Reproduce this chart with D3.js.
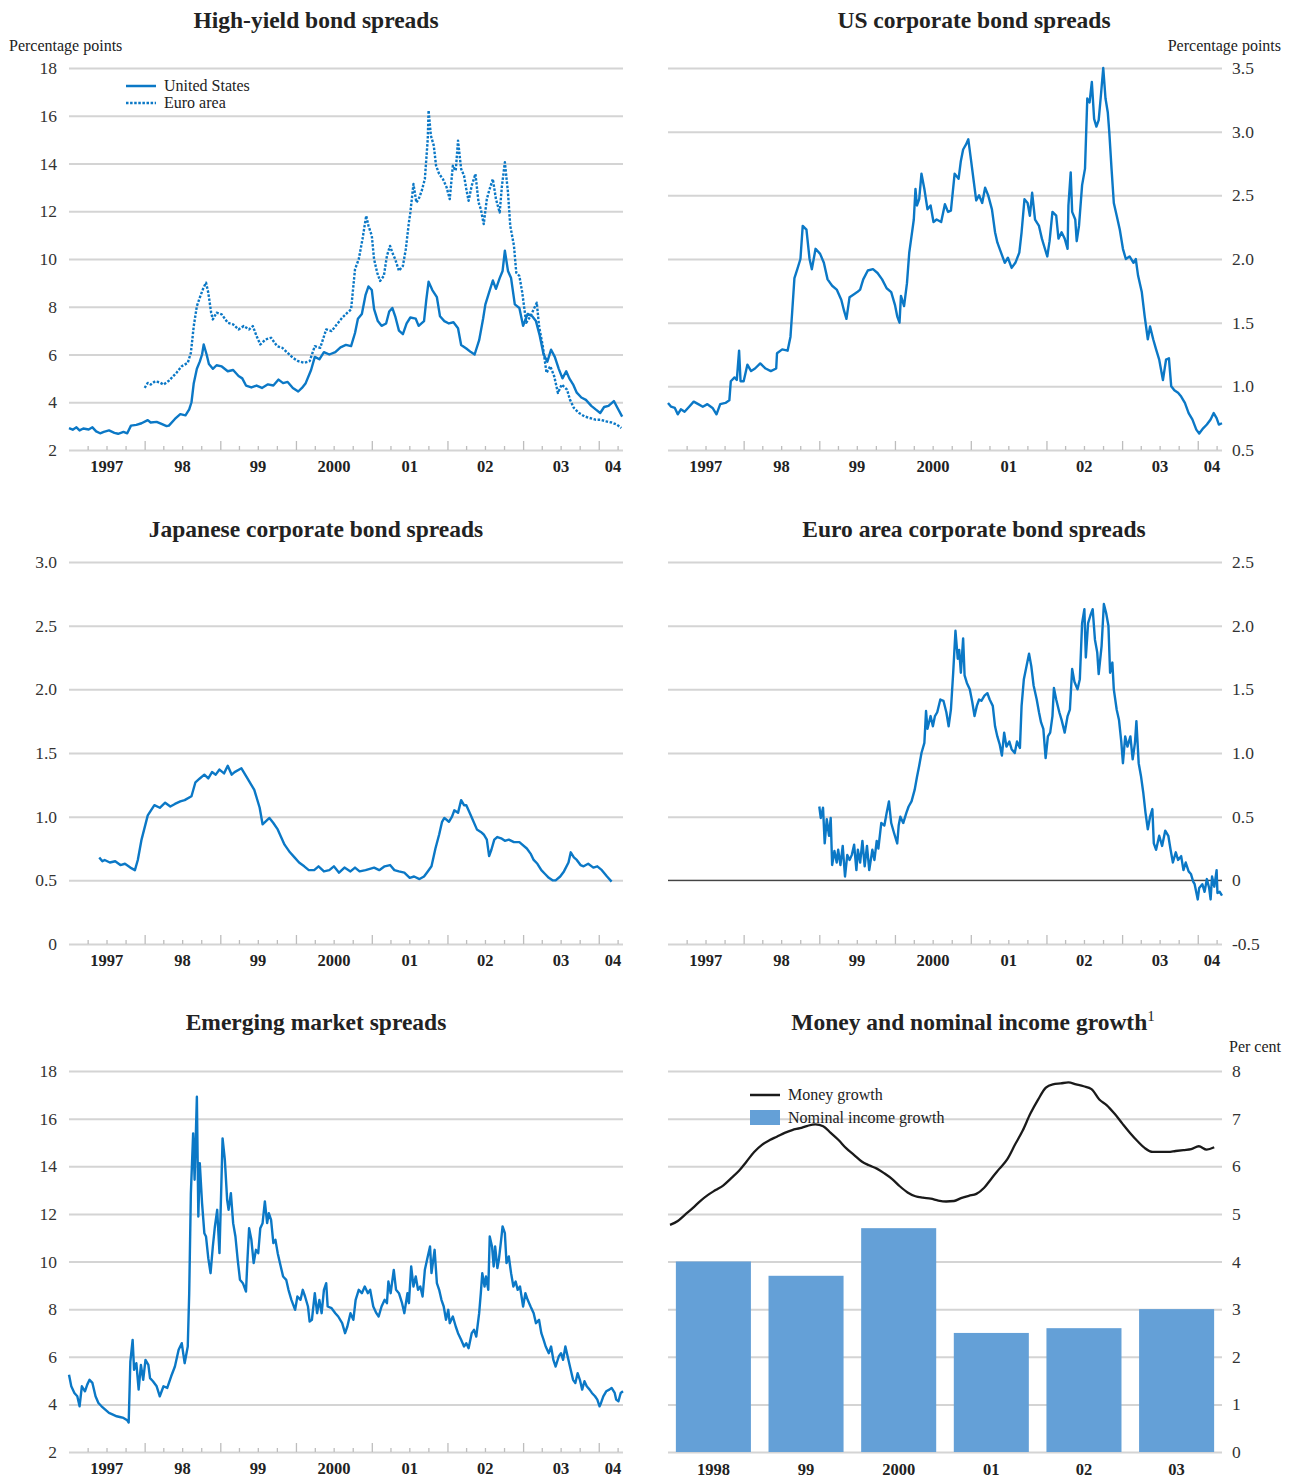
<!DOCTYPE html>
<html>
<head>
<meta charset="utf-8">
<script src="https://cdn.jsdelivr.net/npm/d3@7"></script>
<style>
	body { margin: 0; background: #fff; }
	svg text { font-family: "Liberation Serif", "Times New Roman", serif; }
</style>
</head>
<body>
<div id="chart"></div>
<script>

// DATA
// [decimal year, value] pairs

const usHighYield = [[1997.00,2.92],[1997.05,2.85],[1997.10,2.95],[1997.14,2.82],[1997.19,2.90],[1997.26,2.86],[1997.31,2.95],[1997.36,2.78],[1997.41,2.70],[1997.46,2.76],[1997.53,2.82],[1997.60,2.72],[1997.65,2.68],[1997.72,2.76],[1997.77,2.70],[1997.82,3.02],[1997.89,3.05],[1997.96,3.12],[1998.04,3.25],[1998.08,3.15],[1998.16,3.18],[1998.23,3.08],[1998.29,3.00],[1998.32,3.02],[1998.40,3.30],[1998.47,3.50],[1998.54,3.45],[1998.59,3.70],[1998.62,4.00],[1998.65,4.80],[1998.69,5.40],[1998.73,5.70],[1998.76,6.00],[1998.78,6.42],[1998.82,6.00],[1998.85,5.60],[1998.90,5.40],[1998.95,5.55],[1999.02,5.50],[1999.10,5.30],[1999.17,5.35],[1999.24,5.10],[1999.29,5.00],[1999.34,4.70],[1999.41,4.62],[1999.48,4.70],[1999.55,4.60],[1999.63,4.75],[1999.70,4.70],[1999.77,4.95],[1999.83,4.80],[1999.89,4.85],[1999.96,4.60],[2000.03,4.45],[2000.08,4.60],[2000.13,4.80],[2000.20,5.35],[2000.25,5.90],[2000.31,5.80],[2000.37,6.10],[2000.44,6.00],[2000.52,6.10],[2000.59,6.30],[2000.66,6.40],[2000.73,6.35],[2000.78,6.90],[2000.82,7.50],[2000.87,7.70],[2000.92,8.50],[2000.96,8.85],[2001.00,8.70],[2001.03,7.90],[2001.08,7.40],[2001.13,7.20],[2001.19,7.30],[2001.23,7.80],[2001.27,7.95],[2001.31,7.60],[2001.36,7.00],[2001.41,6.85],[2001.46,7.30],[2001.51,7.55],[2001.58,7.50],[2001.62,7.20],[2001.69,7.40],[2001.72,8.30],[2001.75,9.05],[2001.80,8.70],[2001.86,8.40],[2001.90,7.60],[2001.96,7.40],[2002.02,7.30],[2002.08,7.35],[2002.14,7.10],[2002.18,6.40],[2002.25,6.25],[2002.31,6.10],[2002.36,6.00],[2002.42,6.60],[2002.47,7.50],[2002.50,8.10],[2002.55,8.60],[2002.60,9.10],[2002.64,8.75],[2002.69,9.20],[2002.73,9.50],[2002.76,10.35],[2002.80,9.50],[2002.84,9.20],[2002.89,8.10],[2002.95,7.95],[2003.00,7.20],[2003.06,7.70],[2003.12,7.60],[2003.17,7.40],[2003.22,6.80],[2003.27,6.00],[2003.32,5.70],[2003.37,6.20],[2003.42,5.90],[2003.47,5.40],[2003.52,5.00],[2003.57,5.30],[2003.61,5.00],[2003.66,4.75],[2003.71,4.40],[2003.77,4.20],[2003.83,4.10],[2003.90,3.85],[2003.96,3.70],[2004.02,3.55],[2004.07,3.80],[2004.13,3.85],[2004.20,4.05],[2004.24,3.80],[2004.31,3.40]];

const euroHighYield = [[1998.00,4.60],[1998.04,4.81],[1998.08,4.74],[1998.14,4.88],[1998.20,4.83],[1998.25,4.74],[1998.32,4.90],[1998.42,5.23],[1998.49,5.51],[1998.57,5.65],[1998.61,6.07],[1998.65,7.19],[1998.69,8.03],[1998.73,8.38],[1998.77,8.73],[1998.81,9.01],[1998.84,8.59],[1998.88,7.75],[1998.90,7.47],[1998.95,7.75],[1999.02,7.68],[1999.10,7.33],[1999.17,7.26],[1999.24,7.05],[1999.31,7.19],[1999.38,7.05],[1999.43,7.19],[1999.48,6.77],[1999.53,6.42],[1999.60,6.63],[1999.67,6.70],[1999.75,6.35],[1999.82,6.28],[1999.89,6.07],[1999.96,5.86],[2000.03,5.72],[2000.11,5.65],[2000.18,5.72],[2000.25,6.35],[2000.32,6.28],[2000.40,7.05],[2000.47,6.98],[2000.54,7.26],[2000.61,7.54],[2000.68,7.75],[2000.73,7.89],[2000.78,9.57],[2000.83,9.99],[2000.88,10.83],[2000.93,11.81],[2000.96,11.39],[2001.00,10.97],[2001.03,9.99],[2001.07,9.43],[2001.11,9.08],[2001.16,9.29],[2001.20,10.13],[2001.24,10.55],[2001.27,10.27],[2001.31,9.99],[2001.36,9.50],[2001.41,9.71],[2001.45,10.41],[2001.49,11.53],[2001.51,11.95],[2001.55,13.14],[2001.59,12.37],[2001.62,12.51],[2001.66,12.86],[2001.70,13.35],[2001.74,15.03],[2001.75,16.22],[2001.78,15.17],[2001.82,14.75],[2001.85,13.91],[2001.89,13.56],[2001.94,13.35],[2001.99,13.00],[2002.03,12.51],[2002.07,13.91],[2002.11,13.70],[2002.14,14.96],[2002.18,13.77],[2002.22,13.49],[2002.25,12.93],[2002.28,12.44],[2002.32,13.07],[2002.37,13.56],[2002.41,12.37],[2002.44,12.09],[2002.48,11.46],[2002.52,12.51],[2002.55,12.86],[2002.60,13.35],[2002.64,12.51],[2002.69,11.95],[2002.72,13.07],[2002.76,14.05],[2002.80,12.79],[2002.83,11.39],[2002.88,10.55],[2002.91,9.43],[2002.95,9.29],[2002.99,8.59],[2003.04,7.33],[2003.10,7.61],[2003.14,7.89],[2003.18,8.17],[2003.21,7.19],[2003.26,6.35],[2003.31,5.23],[2003.36,5.51],[2003.41,5.09],[2003.46,4.39],[2003.51,4.74],[2003.58,4.53],[2003.62,4.11],[2003.67,3.76],[2003.74,3.55],[2003.81,3.41],[2003.88,3.34],[2003.96,3.27],[2004.02,3.27],[2004.10,3.20],[2004.17,3.15],[2004.24,3.06],[2004.30,2.92]];

const usCorporate = [[1997.00,0.87],[1997.04,0.84],[1997.09,0.83],[1997.13,0.78],[1997.17,0.82],[1997.22,0.80],[1997.28,0.84],[1997.34,0.88],[1997.40,0.86],[1997.46,0.84],[1997.52,0.86],[1997.59,0.83],[1997.64,0.78],[1997.69,0.86],[1997.76,0.87],[1997.81,0.89],[1997.83,1.04],[1997.88,1.07],[1997.91,1.05],[1997.94,1.28],[1997.96,1.04],[1998.00,1.04],[1998.05,1.17],[1998.10,1.12],[1998.15,1.14],[1998.22,1.18],[1998.29,1.14],[1998.36,1.12],[1998.43,1.14],[1998.44,1.26],[1998.51,1.29],[1998.58,1.28],[1998.62,1.39],[1998.64,1.58],[1998.67,1.85],[1998.71,1.92],[1998.75,2.00],[1998.78,2.26],[1998.83,2.23],[1998.87,2.00],[1998.90,1.92],[1998.95,2.08],[1999.01,2.04],[1999.06,1.97],[1999.11,1.84],[1999.17,1.79],[1999.23,1.76],[1999.29,1.68],[1999.33,1.59],[1999.36,1.53],[1999.40,1.70],[1999.45,1.72],[1999.50,1.74],[1999.54,1.76],[1999.58,1.84],[1999.64,1.91],[1999.71,1.92],[1999.77,1.89],[1999.83,1.84],[1999.89,1.77],[1999.95,1.74],[2000.00,1.64],[2000.03,1.55],[2000.06,1.50],[2000.08,1.71],[2000.12,1.63],[2000.16,1.81],[2000.19,2.05],[2000.22,2.18],[2000.25,2.31],[2000.27,2.55],[2000.29,2.42],[2000.32,2.47],[2000.35,2.67],[2000.39,2.55],[2000.43,2.39],[2000.47,2.42],[2000.51,2.29],[2000.55,2.31],[2000.61,2.29],[2000.66,2.43],[2000.70,2.37],[2000.74,2.38],[2000.79,2.67],[2000.84,2.63],[2000.87,2.77],[2000.90,2.86],[2000.94,2.90],[2000.97,2.94],[2001.00,2.79],[2001.04,2.60],[2001.07,2.46],[2001.11,2.50],[2001.15,2.44],[2001.19,2.56],[2001.23,2.50],[2001.28,2.39],[2001.32,2.21],[2001.35,2.13],[2001.40,2.05],[2001.45,1.97],[2001.49,2.01],[2001.54,1.93],[2001.59,1.97],[2001.64,2.05],[2001.67,2.21],[2001.71,2.47],[2001.75,2.44],[2001.78,2.34],[2001.81,2.52],[2001.85,2.31],[2001.90,2.26],[2001.94,2.16],[2001.97,2.10],[2002.01,2.02],[2002.04,2.14],[2002.08,2.37],[2002.13,2.34],[2002.16,2.16],[2002.20,2.21],[2002.24,2.16],[2002.28,2.08],[2002.29,2.42],[2002.32,2.68],[2002.34,2.37],[2002.38,2.31],[2002.40,2.14],[2002.43,2.26],[2002.47,2.58],[2002.51,2.71],[2002.54,3.26],[2002.57,3.23],[2002.60,3.39],[2002.63,3.10],[2002.66,3.04],[2002.69,3.09],[2002.72,3.29],[2002.75,3.50],[2002.78,3.26],[2002.81,3.15],[2002.83,3.00],[2002.86,2.71],[2002.89,2.44],[2002.93,2.34],[2002.97,2.23],[2003.01,2.08],[2003.05,2.00],[2003.10,2.02],[2003.15,1.97],[2003.18,2.00],[2003.21,1.87],[2003.26,1.74],[2003.30,1.55],[2003.34,1.37],[2003.37,1.47],[2003.41,1.37],[2003.45,1.29],[2003.49,1.21],[2003.54,1.05],[2003.58,1.21],[2003.62,1.22],[2003.65,1.00],[2003.69,0.97],[2003.74,0.95],[2003.78,0.92],[2003.83,0.87],[2003.88,0.79],[2003.93,0.74],[2003.98,0.66],[2004.02,0.63],[2004.07,0.67],[2004.12,0.70],[2004.17,0.74],[2004.21,0.79],[2004.25,0.75],[2004.28,0.70],[2004.32,0.71]];

const japanCorporate = [[1997.40,0.68],[1997.44,0.65],[1997.47,0.66],[1997.54,0.64],[1997.61,0.65],[1997.68,0.62],[1997.74,0.63],[1997.81,0.60],[1997.87,0.58],[1997.91,0.66],[1997.96,0.82],[1998.04,1.01],[1998.13,1.09],[1998.20,1.07],[1998.27,1.11],[1998.34,1.08],[1998.40,1.10],[1998.47,1.12],[1998.53,1.13],[1998.62,1.16],[1998.67,1.27],[1998.73,1.30],[1998.79,1.33],[1998.84,1.30],[1998.89,1.35],[1998.94,1.33],[1998.99,1.37],[1999.05,1.34],[1999.10,1.40],[1999.15,1.33],[1999.19,1.35],[1999.28,1.38],[1999.36,1.30],[1999.45,1.21],[1999.52,1.07],[1999.56,0.94],[1999.65,0.99],[1999.70,0.95],[1999.76,0.90],[1999.85,0.78],[1999.92,0.72],[1999.98,0.68],[2000.04,0.64],[2000.11,0.61],[2000.17,0.58],[2000.24,0.58],[2000.30,0.61],[2000.37,0.57],[2000.44,0.58],[2000.50,0.61],[2000.57,0.56],[2000.64,0.60],[2000.72,0.57],[2000.78,0.60],[2000.84,0.57],[2000.92,0.58],[2001.03,0.60],[2001.10,0.58],[2001.17,0.61],[2001.24,0.62],[2001.30,0.58],[2001.36,0.57],[2001.43,0.56],[2001.50,0.52],[2001.56,0.53],[2001.63,0.51],[2001.69,0.53],[2001.74,0.57],[2001.79,0.61],[2001.84,0.75],[2001.89,0.86],[2001.93,0.96],[2001.96,0.99],[2002.02,0.96],[2002.06,1.00],[2002.09,1.05],[2002.14,1.03],[2002.18,1.13],[2002.22,1.09],[2002.25,1.09],[2002.31,1.01],[2002.39,0.90],[2002.44,0.88],[2002.48,0.86],[2002.52,0.82],[2002.55,0.69],[2002.58,0.74],[2002.62,0.82],[2002.66,0.84],[2002.71,0.83],[2002.76,0.81],[2002.81,0.82],[2002.88,0.80],[2002.95,0.80],[2003.05,0.75],[2003.10,0.71],[2003.14,0.66],[2003.19,0.63],[2003.24,0.58],[2003.29,0.55],[2003.34,0.52],[2003.39,0.50],[2003.43,0.50],[2003.49,0.53],[2003.54,0.57],[2003.60,0.64],[2003.63,0.72],[2003.67,0.68],[2003.71,0.66],[2003.76,0.62],[2003.80,0.61],[2003.86,0.63],[2003.93,0.60],[2003.98,0.61],[2004.04,0.58],[2004.11,0.53],[2004.17,0.49]];

const euroCorporate = [[1999.00,0.58],[1999.02,0.49],[1999.05,0.57],[1999.07,0.29],[1999.10,0.48],[1999.13,0.35],[1999.15,0.49],[1999.17,0.12],[1999.20,0.23],[1999.23,0.14],[1999.25,0.24],[1999.28,0.12],[1999.31,0.27],[1999.34,0.03],[1999.37,0.20],[1999.40,0.16],[1999.43,0.20],[1999.46,0.28],[1999.49,0.08],[1999.51,0.24],[1999.54,0.14],[1999.57,0.31],[1999.60,0.11],[1999.63,0.27],[1999.66,0.08],[1999.70,0.24],[1999.73,0.16],[1999.76,0.31],[1999.78,0.25],[1999.82,0.45],[1999.86,0.43],[1999.89,0.53],[1999.92,0.62],[1999.95,0.45],[1999.99,0.37],[2000.03,0.29],[2000.05,0.43],[2000.07,0.50],[2000.11,0.45],[2000.15,0.53],[2000.18,0.58],[2000.22,0.62],[2000.26,0.71],[2000.29,0.81],[2000.32,0.90],[2000.35,1.00],[2000.39,1.08],[2000.41,1.33],[2000.43,1.19],[2000.47,1.29],[2000.50,1.21],[2000.53,1.29],[2000.56,1.32],[2000.60,1.42],[2000.64,1.41],[2000.68,1.32],[2000.71,1.21],[2000.74,1.34],[2000.77,1.63],[2000.80,1.96],[2000.83,1.74],[2000.85,1.81],[2000.87,1.63],[2000.90,1.90],[2000.92,1.61],[2000.95,1.55],[2000.99,1.50],[2001.02,1.40],[2001.05,1.29],[2001.08,1.37],[2001.11,1.42],[2001.14,1.41],[2001.18,1.45],[2001.22,1.47],[2001.25,1.42],[2001.29,1.37],[2001.32,1.21],[2001.35,1.13],[2001.38,1.07],[2001.41,0.98],[2001.44,1.16],[2001.47,1.05],[2001.51,1.09],[2001.54,1.03],[2001.58,1.00],[2001.61,1.09],[2001.65,1.04],[2001.67,1.37],[2001.70,1.58],[2001.73,1.66],[2001.77,1.78],[2001.80,1.68],[2001.83,1.53],[2001.87,1.42],[2001.90,1.32],[2001.93,1.24],[2001.96,1.19],[2001.99,0.96],[2002.02,1.13],[2002.05,1.16],[2002.08,1.29],[2002.10,1.51],[2002.13,1.42],[2002.17,1.32],[2002.20,1.26],[2002.24,1.16],[2002.28,1.29],[2002.31,1.34],[2002.34,1.66],[2002.37,1.56],[2002.41,1.50],[2002.44,1.58],[2002.47,2.02],[2002.50,2.13],[2002.52,1.75],[2002.55,2.02],[2002.58,2.08],[2002.61,2.13],[2002.64,1.89],[2002.67,1.79],[2002.69,1.62],[2002.73,1.84],[2002.76,2.17],[2002.79,2.10],[2002.82,2.00],[2002.84,1.63],[2002.87,1.71],[2002.89,1.50],[2002.93,1.34],[2002.96,1.26],[2002.99,1.09],[2003.01,0.92],[2003.04,1.13],[2003.07,1.05],[2003.11,1.13],[2003.14,0.95],[2003.17,1.08],[2003.19,1.25],[2003.22,0.92],[2003.25,0.82],[2003.28,0.69],[2003.31,0.53],[2003.34,0.40],[2003.37,0.50],[2003.40,0.56],[2003.42,0.29],[2003.45,0.24],[2003.49,0.35],[2003.53,0.27],[2003.57,0.39],[2003.61,0.35],[2003.64,0.24],[2003.67,0.14],[2003.71,0.22],[2003.74,0.16],[2003.78,0.19],[2003.81,0.08],[2003.84,0.14],[2003.88,0.07],[2003.91,0.05],[2003.94,-0.01],[2003.96,-0.03],[2004.00,-0.15],[2004.02,-0.06],[2004.06,-0.03],[2004.09,-0.09],[2004.12,0.01],[2004.15,-0.06],[2004.17,-0.15],[2004.19,0.03],[2004.22,-0.05],[2004.25,0.08],[2004.26,-0.10],[2004.29,-0.09],[2004.32,-0.12]];

const emergingMarkets = [[1997.00,5.24],[1997.03,4.76],[1997.07,4.48],[1997.11,4.34],[1997.14,3.92],[1997.17,4.76],[1997.21,4.55],[1997.24,4.83],[1997.27,5.03],[1997.31,4.90],[1997.35,4.34],[1997.39,4.06],[1997.43,3.92],[1997.48,3.78],[1997.53,3.64],[1997.58,3.57],[1997.63,3.50],[1997.67,3.47],[1997.72,3.43],[1997.77,3.33],[1997.79,3.24],[1997.81,5.80],[1997.84,6.71],[1997.86,5.45],[1997.89,5.73],[1997.92,4.62],[1997.95,5.66],[1997.98,5.03],[1998.01,5.87],[1998.05,5.66],[1998.07,5.10],[1998.11,4.97],[1998.16,4.76],[1998.20,4.34],[1998.25,4.76],[1998.30,4.69],[1998.35,5.18],[1998.40,5.59],[1998.45,6.29],[1998.49,6.57],[1998.53,5.73],[1998.57,6.43],[1998.59,8.67],[1998.61,12.87],[1998.64,15.38],[1998.66,13.43],[1998.69,16.92],[1998.71,11.89],[1998.73,14.13],[1998.76,12.45],[1998.79,11.19],[1998.81,11.05],[1998.84,10.14],[1998.87,9.51],[1998.90,10.63],[1998.93,11.47],[1998.96,12.17],[1998.99,10.35],[1999.01,12.87],[1999.03,15.17],[1999.06,14.27],[1999.09,12.59],[1999.11,12.17],[1999.14,12.87],[1999.17,11.61],[1999.20,11.05],[1999.23,10.07],[1999.26,9.23],[1999.30,9.09],[1999.34,8.74],[1999.36,10.07],[1999.38,11.40],[1999.41,10.91],[1999.44,9.93],[1999.47,10.49],[1999.50,10.35],[1999.53,11.40],[1999.56,11.61],[1999.59,12.52],[1999.62,11.61],[1999.64,12.03],[1999.67,11.75],[1999.70,10.77],[1999.73,10.91],[1999.76,10.35],[1999.79,9.93],[1999.83,9.37],[1999.87,9.23],[1999.90,8.81],[1999.94,8.39],[1999.99,7.97],[2000.02,8.53],[2000.06,8.39],[2000.09,8.81],[2000.12,8.53],[2000.16,8.11],[2000.18,7.48],[2000.21,7.55],[2000.25,8.67],[2000.28,7.83],[2000.31,8.39],[2000.34,7.83],[2000.37,8.81],[2000.40,9.09],[2000.42,8.11],[2000.47,8.04],[2000.52,7.83],[2000.56,7.69],[2000.61,7.41],[2000.65,6.99],[2000.68,7.27],[2000.72,7.83],[2000.76,7.55],[2000.79,8.39],[2000.83,8.81],[2000.87,8.67],[2000.91,8.95],[2000.95,8.67],[2000.98,8.81],[2001.02,8.11],[2001.06,7.83],[2001.09,7.69],[2001.13,8.11],[2001.17,8.39],[2001.20,8.25],[2001.22,9.16],[2001.25,8.67],[2001.29,9.65],[2001.32,8.81],[2001.36,8.67],[2001.40,8.25],[2001.43,7.83],[2001.47,8.67],[2001.49,8.25],[2001.52,9.79],[2001.55,8.95],[2001.58,9.37],[2001.61,8.81],[2001.64,8.95],[2001.67,8.53],[2001.70,9.65],[2001.74,10.21],[2001.77,10.63],[2001.79,9.51],[2001.83,10.49],[2001.86,9.09],[2001.89,8.81],[2001.92,8.39],[2001.95,8.11],[2001.98,7.55],[2002.01,7.97],[2002.03,7.41],[2002.07,7.69],[2002.11,7.27],[2002.14,6.99],[2002.18,6.71],[2002.22,6.43],[2002.25,6.57],[2002.28,6.36],[2002.32,6.99],[2002.35,7.13],[2002.38,6.85],[2002.42,7.83],[2002.44,8.67],[2002.46,9.51],[2002.49,8.95],[2002.51,9.37],[2002.54,8.81],[2002.56,11.05],[2002.59,10.63],[2002.61,9.79],[2002.63,10.63],[2002.66,9.72],[2002.68,10.07],[2002.71,10.91],[2002.73,11.47],[2002.76,11.19],[2002.78,9.93],[2002.81,10.21],[2002.84,9.51],[2002.87,8.95],[2002.90,9.16],[2002.93,8.81],[2002.96,8.95],[2003.00,8.11],[2003.03,8.67],[2003.06,8.39],[2003.10,8.11],[2003.14,7.83],[2003.17,7.41],[2003.21,7.55],[2003.24,6.99],[2003.27,6.71],[2003.30,6.43],[2003.34,6.15],[2003.37,6.43],[2003.40,5.87],[2003.43,5.59],[2003.47,6.01],[2003.50,6.15],[2003.53,5.87],[2003.56,6.43],[2003.59,6.01],[2003.62,5.59],[2003.66,5.03],[2003.69,4.90],[2003.72,5.31],[2003.75,5.03],[2003.78,4.62],[2003.81,4.97],[2003.84,4.76],[2003.88,4.62],[2003.91,4.48],[2003.95,4.34],[2003.98,4.20],[2004.01,3.92],[2004.03,4.06],[2004.06,4.34],[2004.10,4.55],[2004.14,4.62],[2004.17,4.69],[2004.21,4.48],[2004.23,4.20],[2004.26,4.13],[2004.29,4.48],[2004.32,4.55]];

// money growth, monthly from January 1998
const moneyGrowth = [4.77,4.85,4.98,5.12,5.27,5.40,5.50,5.60,5.75,5.90,6.10,6.30, 6.45,6.55,6.62,6.70,6.76,6.80,6.85,6.88,6.84,6.70,6.55,6.38, 6.24,6.10,6.02,5.95,5.85,5.73,5.58,5.45,5.37,5.34,5.32,5.28, 5.26,5.27,5.33,5.38,5.42,5.55,5.75,5.95,6.15,6.45,6.75,7.10, 7.40,7.65,7.72,7.74,7.76,7.72,7.68,7.62,7.40,7.28,7.10,6.90, 6.70,6.52,6.38,6.30,6.30,6.30,6.32,6.34,6.36,6.42,6.35,6.40];

// nominal income growth, yearly
const incomeYears = ['1998', '99', '2000', '01', '02', '03'];
const incomeGrowth = [4.0, 3.7, 4.7, 2.5, 2.6, 3.0];

// tick labels
const yearLabels = ['1997', '98', '99', '2000', '01', '02', '03', '04'];
const hyTicks = [2, 4, 6, 8, 10, 12, 14, 16, 18];
const usCorpTicks = [0.5, 1.0, 1.5, 2.0, 2.5, 3.0, 3.5];
const japanTicks = [0, 0.5, 1.0, 1.5, 2.0, 2.5, 3.0];
const euroCorpTicks = [-0.5, 0, 0.5, 1.0, 1.5, 2.0, 2.5];
const emTicks = [2, 4, 6, 8, 10, 12, 14, 16, 18];
const moneyTicks = [0, 1, 2, 3, 4, 5, 6, 7, 8];




// SETUP
const W = 1295, H = 1479;
const BLUE = '#0b78c6';
const GRID = '#d4d4d4';
const svg = d3.select('#chart').append('svg')
	.attr('width', W)
	.attr('height', H);

const toDate = (t) => {
	const y = Math.floor(t);
	return new Date(y, 0, 1 + Math.round((t - y) * 365));
};
const xStart = new Date(1997, 0, 1);
const xEnd = new Date(2004, 3, 27);
// plain hyphen for negatives, "0" without decimals
const fmt1 = (d) => d === 0 ? '0' : d3.format('.1f')(d).replace('\u2212', '-');

const title = (text, cx, y) => svg.append('text')
	.attr('x', cx).attr('y', y)
	.attr('text-anchor', 'middle')
	.attr('font-size', 23.5).attr('font-weight', 'bold')
	.attr('fill', '#222')
	.text(text);

const unitLabel = (text, x, y, anchor) => svg.append('text')
	.attr('x', x).attr('y', y)
	.attr('text-anchor', anchor)
	.attr('font-size', 16).attr('fill', '#222')
	.text(text);

// y grid + labels with d3 axis
function yGrid(y, ticks, fmt, side, x0, x1) {
	const axis = side === 'left' ? d3.axisLeft(y) : d3.axisRight(y);
	axis.tickValues(ticks).tickFormat(fmt).tickSize(-(x1 - x0)).tickPadding(side === 'left' ? 12 : 10);
	const g = svg.append('g')
		.attr('transform', `translate(${side === 'left' ? x0 : x1}, 0)`)
		.call(axis);
	g.select('.domain').remove();
	g.selectAll('line').attr('stroke', GRID).attr('stroke-width', 2);
	g.selectAll('text')
		.attr('font-size', 17.5).attr('fill', '#333')
		.style('font-family', '"Liberation Serif", "Times New Roman", serif');
	return g;
}




// TIME PANEL
function timePanel(cfg) {
	const x = d3.scaleTime().domain([xStart, xEnd]).range(cfg.xRange);
	const y = d3.scaleLinear().domain(cfg.yDomain).range(cfg.yRange);
	const base = cfg.yRange[0];

	yGrid(y, cfg.ticks, cfg.fmt, cfg.side, cfg.xRange[0], cfg.xRange[1]);

	// quarter ticks on the bottom line, taller at year starts
	const xAxis = d3.axisBottom(x)
		.ticks(d3.timeMonth.every(3))
		.tickSize(-4)
		.tickFormat('');
	const gx = svg.append('g')
		.attr('transform', `translate(0, ${base})`)
		.call(xAxis);
	gx.select('.domain').remove();
	gx.selectAll('.tick line')
		.attr('stroke', '#bdbdbd').attr('stroke-width', 1.3)
		.attr('y2', d => d.getMonth() === 0 ? -9 : -4)
		.filter(d => +d === +xStart).remove();

	// year labels centred in each year
	svg.append('g').selectAll('text')
		.data(yearLabels)
		.enter().append('text')
		.attr('x', (d, i) => {
			const a = new Date(1997 + i, 0, 1);
			const b = d3.min([new Date(1998 + i, 0, 1), xEnd]);
			return (x(a) + x(b)) / 2 + (i === yearLabels.length - 1 ? 2 : 0);
		})
		.attr('y', base + 22)
		.attr('text-anchor', 'middle')
		.attr('font-size', 16.5).attr('font-weight', 'bold').attr('fill', '#222')
		.text(d => d);

	if (cfg.zeroLine) {
		svg.append('line')
			.attr('x1', cfg.xRange[0]).attr('x2', cfg.xRange[1])
			.attr('y1', y(0)).attr('y2', y(0))
			.attr('stroke', '#444').attr('stroke-width', 1.4);
	}

	const line = d3.line()
		.x(d => x(toDate(d[0])))
		.y(d => y(d[1]));

	cfg.series.forEach(s => {
		svg.append('path')
			.datum(s.data)
			.attr('fill', 'none')
			.attr('stroke', BLUE)
			.attr('stroke-width', 2.4)
			.attr('stroke-linejoin', 'round')
			.attr('stroke-dasharray', s.dash || null)
			.attr('d', line);
	});
	return { x, y };
}

const LEFT = [69, 623];
const RIGHT = [668, 1222];




// ROW 1
title('High-yield bond spreads', 316, 28);
unitLabel('Percentage points', 9, 51, 'start');
timePanel({
	xRange: LEFT, yDomain: [2, 18], yRange: [450, 68],
	ticks: hyTicks, fmt: d3.format('d'), side: 'left',
	series: [{ data: euroHighYield, dash: '2.5,1.6' }, { data: usHighYield }]
});
// legend
const lg = svg.append('g');
lg.append('line').attr('x1', 126).attr('x2', 156).attr('y1', 86).attr('y2', 86)
	.attr('stroke', BLUE).attr('stroke-width', 2.5);
lg.append('line').attr('x1', 126).attr('x2', 156).attr('y1', 103).attr('y2', 103)
	.attr('stroke', BLUE).attr('stroke-width', 2.5).attr('stroke-dasharray', '2.5,1.6');
lg.append('text').attr('x', 164).attr('y', 91).attr('font-size', 16).attr('fill', '#222').text('United States');
lg.append('text').attr('x', 164).attr('y', 108).attr('font-size', 16).attr('fill', '#222').text('Euro area');

title('US corporate bond spreads', 974, 28);
unitLabel('Percentage points', 1281, 51, 'end');
timePanel({
	xRange: RIGHT, yDomain: [0.5, 3.5], yRange: [450, 68],
	ticks: usCorpTicks, fmt: d3.format('.1f'), side: 'right',
	series: [{ data: usCorporate }]
});




// ROW 2
title('Japanese corporate bond spreads', 316, 537);
timePanel({
	xRange: LEFT, yDomain: [0, 3], yRange: [944, 562],
	ticks: japanTicks, fmt: fmt1, side: 'left',
	series: [{ data: japanCorporate }]
});

title('Euro area corporate bond spreads', 974, 537);
timePanel({
	xRange: RIGHT, yDomain: [-0.5, 2.5], yRange: [944, 562],
	ticks: euroCorpTicks, fmt: fmt1, side: 'right', zeroLine: true,
	series: [{ data: euroCorporate }]
});




// ROW 3
title('Emerging market spreads', 316, 1030);
timePanel({
	xRange: LEFT, yDomain: [2, 18], yRange: [1452, 1071],
	ticks: emTicks, fmt: d3.format('d'), side: 'left',
	series: [{ data: emergingMarkets }]
});

// money and nominal income growth
const mt = svg.append('text')
	.attr('x', 973).attr('y', 1030)
	.attr('text-anchor', 'middle')
	.attr('font-size', 23.5).attr('font-weight', 'bold').attr('fill', '#222');
mt.append('tspan').text('Money and nominal income growth');
mt.append('tspan').attr('font-size', 15).attr('font-weight', 'normal').attr('dy', -9).text('1');
unitLabel('Per cent', 1281, 1052, 'end');

const yM = d3.scaleLinear().domain([0, 8]).range([1452, 1071]);
yGrid(yM, moneyTicks, d3.format('d'), 'right', RIGHT[0], RIGHT[1]);

const xBand = d3.scaleBand()
	.domain(incomeYears)
	.range(RIGHT)
	.paddingInner(0.19)
	.paddingOuter(0.085);

svg.append('g').selectAll('rect')
	.data(incomeGrowth)
	.enter().append('rect')
	.attr('x', (d, i) => xBand(incomeYears[i]))
	.attr('y', d => yM(d))
	.attr('width', xBand.bandwidth())
	.attr('height', d => yM(0) - yM(d))
	.attr('fill', '#64a0d7');

const xM = d3.scaleTime()
	.domain([new Date(1998, 0, 1), new Date(2004, 0, 1)])
	.range([RIGHT[0] + 2, RIGHT[1]]);
const moneyLine = d3.line()
	.x((d, i) => xM(d3.timeMonth.offset(new Date(1998, 0, 1), i)))
	.y(d => yM(d))
	.curve(d3.curveMonotoneX);
svg.append('path')
	.datum(moneyGrowth)
	.attr('fill', 'none')
	.attr('stroke', '#1a1a1a')
	.attr('stroke-width', 2.3)
	.attr('d', moneyLine);

// category labels
svg.append('g')
	.attr('transform', 'translate(0, 1452)')
	.call(d3.axisBottom(xBand).tickSize(0).tickPadding(11))
	.call(g => g.select('.domain').remove())
	.selectAll('text')
	.attr('font-size', 16.5).attr('font-weight', 'bold').attr('fill', '#222')
	.style('font-family', '"Liberation Serif", "Times New Roman", serif');

// legend
const lm = svg.append('g');
lm.append('line').attr('x1', 750).attr('x2', 780).attr('y1', 1095).attr('y2', 1095)
	.attr('stroke', '#1a1a1a').attr('stroke-width', 2.5);
lm.append('rect').attr('x', 750).attr('y', 1110).attr('width', 30).attr('height', 15)
	.attr('fill', '#64a0d7');
lm.append('text').attr('x', 788).attr('y', 1100).attr('font-size', 16).attr('fill', '#222').text('Money growth');
lm.append('text').attr('x', 788).attr('y', 1123).attr('font-size', 16).attr('fill', '#222').text('Nominal income growth');

</script>
</body>
</html>
